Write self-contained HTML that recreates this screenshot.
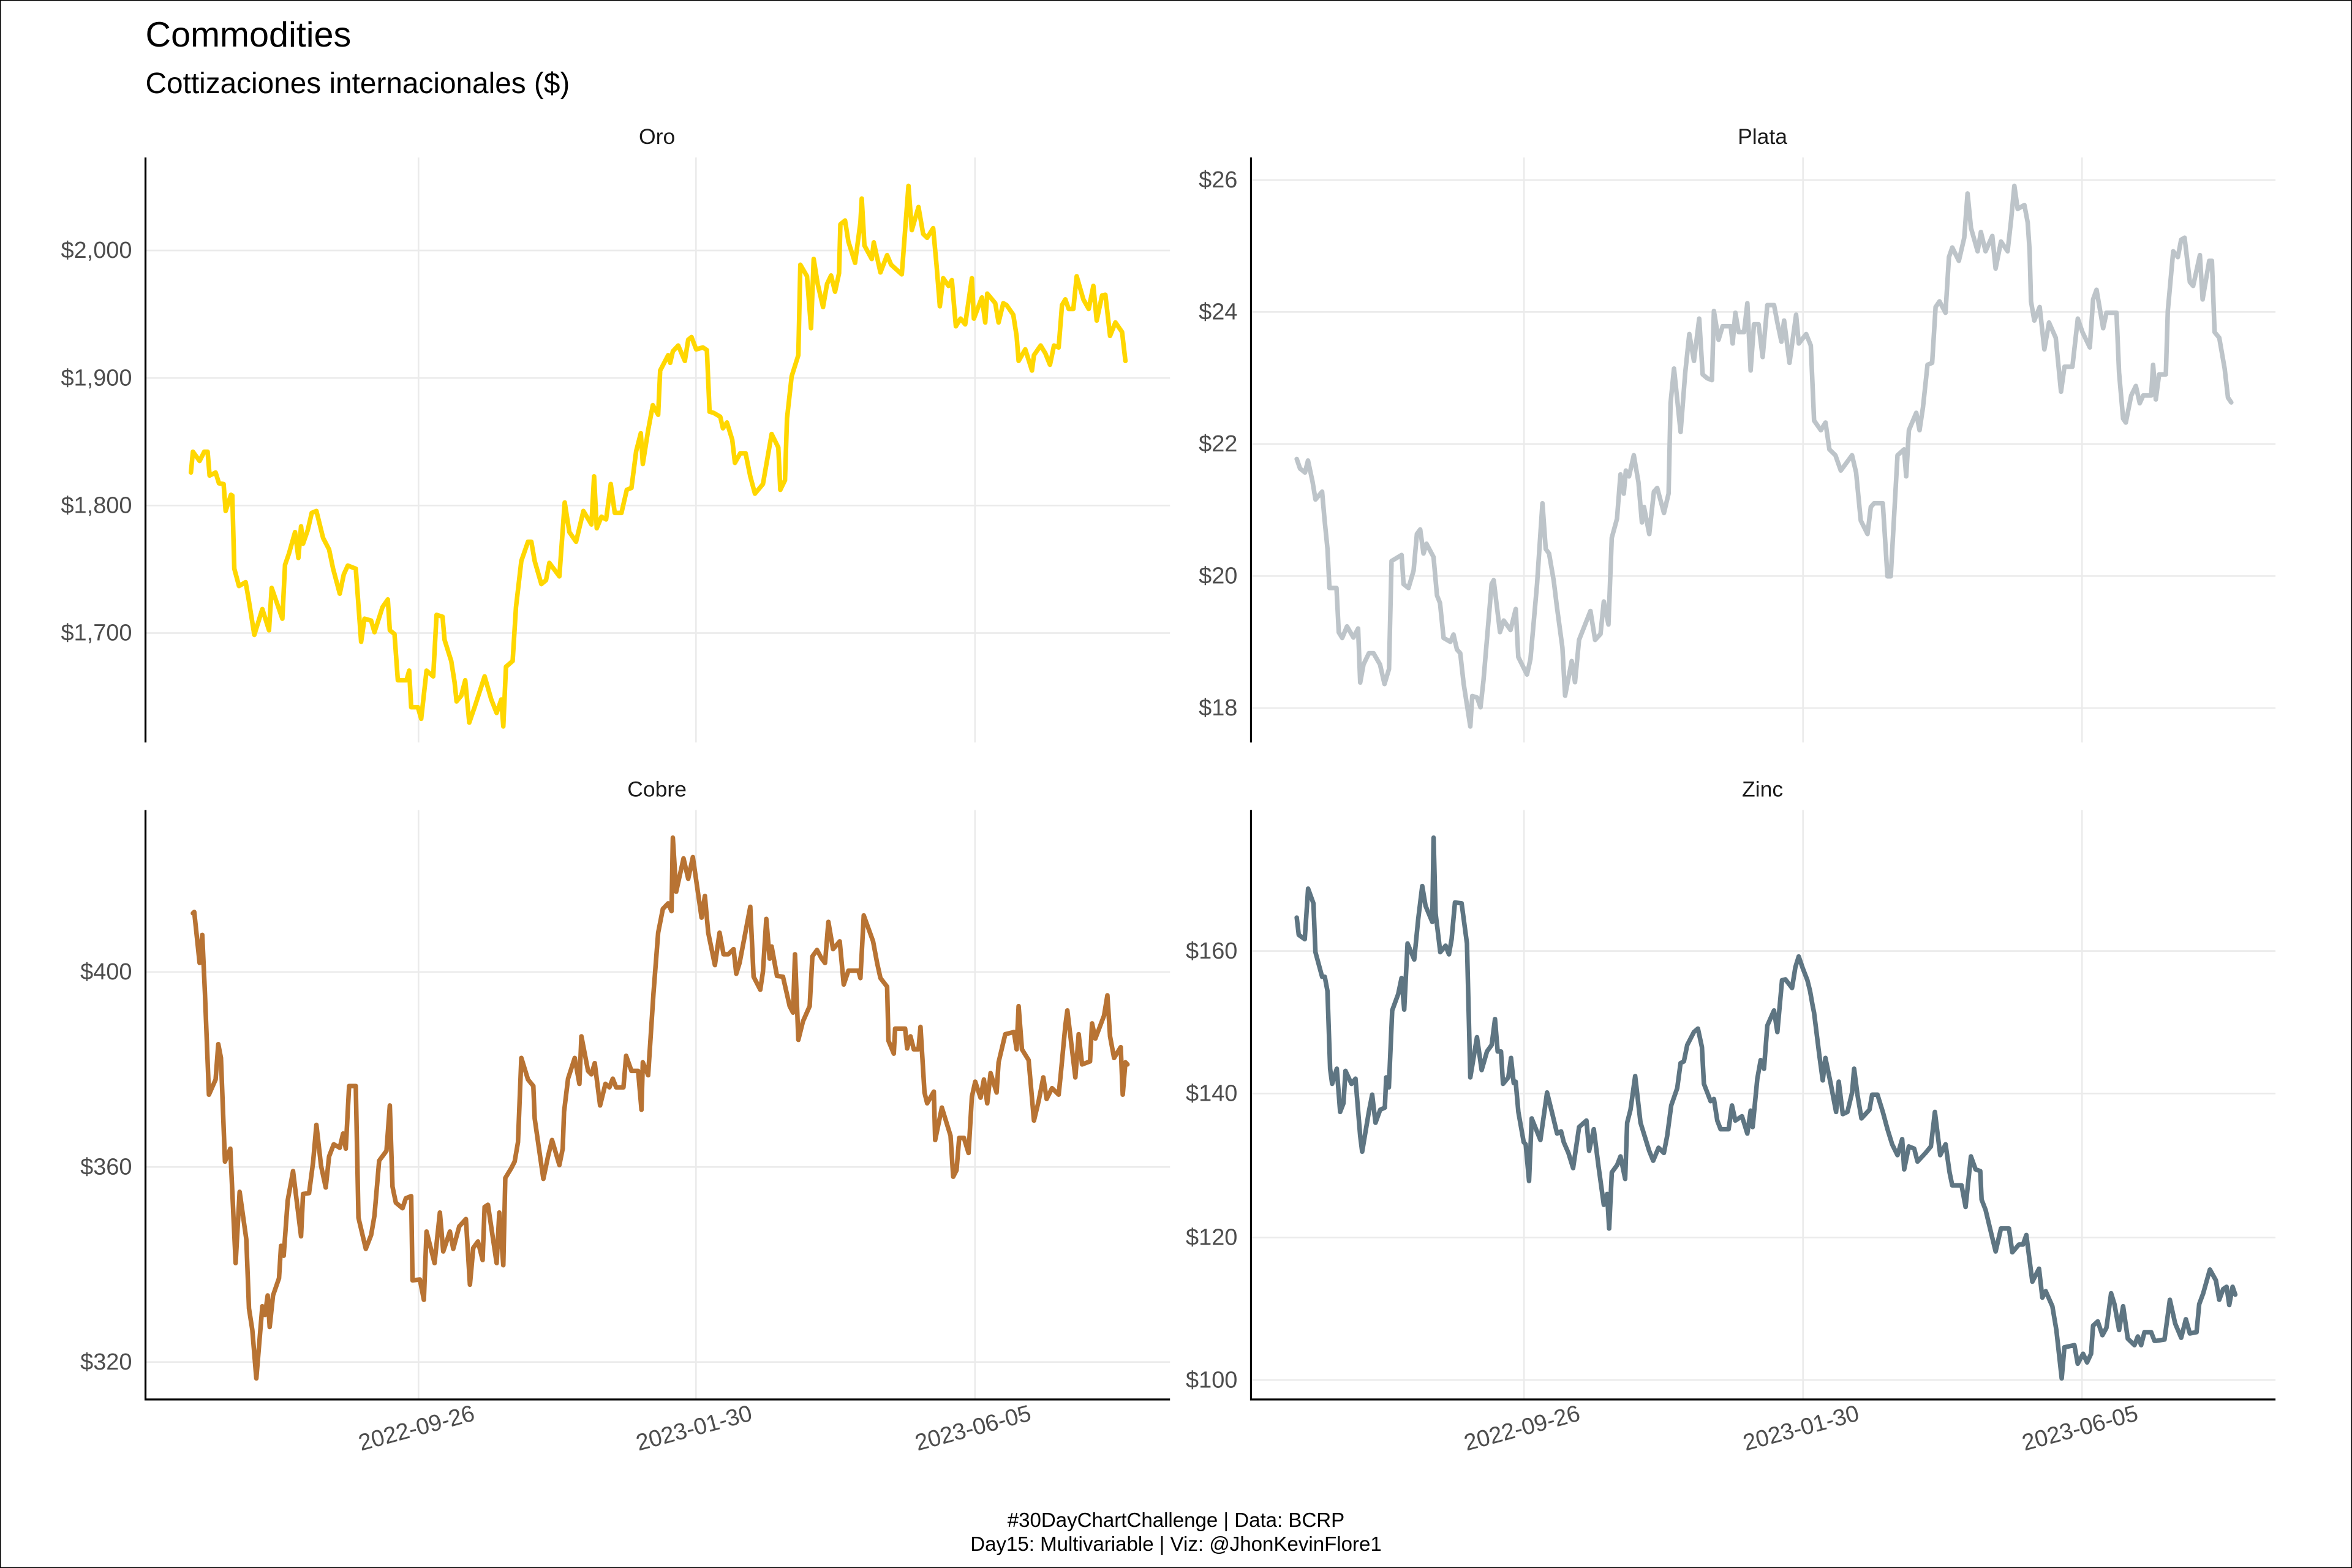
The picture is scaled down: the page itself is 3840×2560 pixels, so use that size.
<!DOCTYPE html>
<html><head><meta charset="utf-8"><style>html,body{margin:0;padding:0;background:#fff}svg{display:block}</style></head>
<body>
<svg xmlns="http://www.w3.org/2000/svg" width="3840" height="2560" viewBox="0 0 1568 1045.33" font-family="Liberation Sans, Arial, sans-serif">
<rect x="0" y="0" width="1568" height="1045.33" fill="#fff" stroke="#000" stroke-width="1.2"/>
<text x="97" y="31" font-size="23.5" fill="#000">Commodities</text>
<text x="97" y="62" font-size="19.5" fill="#000">Cottizaciones internacionales ($)</text>

<g stroke="#ebebeb" stroke-width="1.1" fill="none">
<path d="M97 167H780M97 252H780M97 337H780M97 422H780M279 105V495M464 105V495M650 105V495"/>
<path d="M834 120H1517M834 208H1517M834 296H1517M834 384H1517M834 472H1517M1016 105V495M1202 105V495M1388 105V495"/>
<path d="M97 648H780M97 778H780M97 908H780M279 540V933M464 540V933M650 540V933"/>
<path d="M834 634H1517M834 729H1517M834 825H1517M834 920H1517M1016 540V933M1202 540V933M1388 540V933"/>
</g>

<g stroke="#000" stroke-width="1.3" fill="none">
<path d="M97 105V495M834 105V495M97 540V933H780M834 540V933H1517"/>
</g>

<g font-size="14.5" fill="#1a1a1a" text-anchor="middle">
<text x="438" y="96">Oro</text>
<text x="1175" y="96">Plata</text>
<text x="438" y="531">Cobre</text>
<text x="1175" y="531">Zinc</text>
</g>

<g font-size="15.5" fill="#4d4d4d" text-anchor="end">
<text x="88" y="172">$2,000</text><text x="88" y="257">$1,900</text><text x="88" y="342">$1,800</text><text x="88" y="427">$1,700</text>
<text x="825" y="125">$26</text><text x="825" y="213">$24</text><text x="825" y="301">$22</text><text x="825" y="389">$20</text><text x="825" y="477">$18</text>
<text x="88" y="653">$400</text><text x="88" y="783">$360</text><text x="88" y="913">$320</text>
<text x="825" y="639">$160</text><text x="825" y="734">$140</text><text x="825" y="830">$120</text><text x="825" y="925">$100</text>
</g>

<g font-size="15.5" fill="#4d4d4d" text-anchor="middle">
<text transform="translate(279,957) rotate(-15)">2022-09-26</text>
<text transform="translate(464,957) rotate(-15)">2023-01-30</text>
<text transform="translate(650,957) rotate(-15)">2023-06-05</text>
<text transform="translate(1016,957) rotate(-15)">2022-09-26</text>
<text transform="translate(1202,957) rotate(-15)">2023-01-30</text>
<text transform="translate(1388,957) rotate(-15)">2023-06-05</text>
</g>

<g font-size="13.5" fill="#000" text-anchor="middle">
<text x="784" y="1018">#30DayChartChallenge | Data: BCRP</text>
<text x="784" y="1034">Day15: Multivariable | Viz: @JhonKevinFlore1</text>
</g>

<g fill="none" stroke-linejoin="round" stroke-linecap="round">
<polyline transform="matrix(0.445 0 0 0.2565 93.9 102.1)" vector-effect="non-scaling-stroke" stroke="#FFD700" stroke-width="7.5" points="75,830 78,776 88,800 95,776 100,776 103,838 112,830 117,858 124,860 127,930 135,888 137,890 140,1080 147,1125 157,1115 162,1165 170,1252 182,1185 192,1240 196,1130 205,1175 212,1210 216,1070 222,1040 231,985 236,1052 240,970 243,1015 250,980 256,935 263,930 273,1000 282,1030 288,1080 298,1145 304,1095 310,1072 322,1080 330,1270 335,1210 345,1215 350,1245 362,1180 370,1160 373,1240 380,1250 385,1370 398,1370 402,1345 405,1440 415,1440 420,1470 428,1345 438,1360 443,1200 452,1205 455,1265 465,1320 470,1375 473,1425 480,1410 486,1370 492,1480 500,1440 515,1360 525,1420 533,1455 540,1420 543,1490 547,1335 557,1320 562,1180 570,1060 580,1010 585,1010 590,1060 600,1120 607,1110 612,1065 627,1100 635,908 642,985 652,1010 663,930 675,965 679,840 683,975 690,945 697,952 704,860 710,935 720,935 728,875 735,870 742,775 749,728 752,808 760,720 767,655 775,680 778,565 790,525 793,545 797,515 805,500 815,540 820,485 825,478 832,510 842,505 848,512 852,672 858,675 868,685 872,715 878,700 886,745 890,805 898,780 906,780 913,840 920,885 932,860 938,800 945,730 955,765 958,875 965,850 968,690 975,580 985,525 988,290 998,320 1004,455 1008,275 1014,340 1022,400 1028,340 1034,318 1040,360 1046,312 1048,185 1055,175 1060,230 1070,285 1078,180 1080,118 1084,240 1095,275 1098,232 1108,310 1118,265 1124,290 1140,315 1150,85 1155,200 1165,140 1172,210 1178,220 1187,195 1192,290 1197,398 1202,325 1210,345 1215,330 1221,450 1228,430 1235,445 1245,325 1248,430 1260,375 1265,440 1268,365 1280,390 1285,440 1292,390 1297,395 1307,420 1312,475 1315,540 1325,510 1335,565 1338,525 1348,500 1355,520 1362,550 1368,500 1375,505 1380,395 1385,380 1390,405 1397,405 1402,320 1412,380 1420,405 1427,345 1432,435 1440,370 1445,368 1452,475 1460,440 1470,465 1475,540"/>
<polyline vector-effect="non-scaling-stroke" stroke="#BDC4C9" stroke-width="7.5" points="864.5,306 866.7,312.4 870,315 872,307 875,321 877,333 881.4,327.8 883,346 885,366 886.3,392 891,392 892.5,421.5 894.8,425.3 898,417.6 902.3,425 905.4,419 906.8,455 909,443 912.6,435.5 915.7,435.5 920,443 923,456 926,446 927.7,374 934.4,370 935.7,389.4 939,392 942.4,380.4 944.6,356 946.8,353 949,369 951,362.5 955.7,371.4 958,397 960,402 962.4,425.3 966.9,427.9 969,423 971.3,433 973.5,435.5 975.8,456 980.2,484.3 981.5,464 984.7,465 987,471.5 989,453.5 994.4,389.4 995.8,386.8 1000,421.4 1002.5,413.7 1007,420 1010.5,406 1012.2,438 1018,449.7 1020.3,439.4 1024.7,389.4 1028.3,335.5 1030.5,366 1032.7,369 1035.8,387 1038,405 1041.6,431.7 1043.4,463.8 1047.8,440.7 1050,454.8 1052.7,426.6 1060.3,407.3 1063.4,426.6 1067,422.7 1069.2,401 1072.3,416.3 1074.5,358.6 1078,345.8 1080.3,316.3 1082.5,329.1 1083.9,313.7 1086,317.6 1089.2,303.5 1092.3,321.4 1094.6,348.3 1096,338 1099.5,356 1102.6,327.8 1104.8,325.3 1109.3,342 1112.4,329 1113.7,268.8 1116,245.7 1120.4,288 1123.5,248.3 1126.2,222.7 1129.3,240.6 1132.8,212.4 1135.1,249.6 1138.2,252.2 1141.3,253.4 1142.6,207.3 1145.7,226.5 1148.4,217.5 1153.8,217.5 1155.1,229 1156.9,208.5 1159.1,221.4 1162.7,221.4 1164.9,202.1 1167.1,247 1169.3,216.2 1172.4,216.2 1175.1,238 1178.2,203.4 1182.7,203.4 1184.9,215 1187.6,227.8 1189.4,213.7 1193,241.9 1197.4,209.8 1199.2,229 1204.1,222.7 1207.2,230.3 1209.4,280.4 1213.9,286.8 1217,281.7 1219.6,299.6 1223.6,303.5 1227.2,313.7 1234.7,303.5 1237.4,315 1240.5,347 1245,356 1247.2,338 1249.4,335.5 1255.2,335.5 1258.3,384.2 1260.5,384.2 1265,303.5 1269.4,299.6 1270.8,317.6 1272.6,286.8 1277.5,275.2 1279.7,286.8 1282,271.4 1285,243.2 1288.1,241.9 1290.4,204.7 1293,200.9 1297,208.5 1299.3,171.4 1301.5,165 1305.9,173.9 1309.5,158.5 1311.7,129 1314,152 1318.4,167.5 1320.6,154.7 1323.7,167.5 1328.2,157.3 1330.4,179 1334,161 1338.4,167.5 1340.7,147 1342.9,123.9 1345.1,139.3 1349.6,136.7 1351.8,148.3 1353.1,167.5 1354,200.9 1356.2,213.7 1359.8,204.7 1362.9,232.9 1366,215 1370.5,225.2 1374,261.1 1376.3,244.5 1381.6,244.5 1385.2,212.4 1388.3,221.4 1393.2,231.6 1395.4,199.6 1397.7,193.2 1402.1,218.8 1404.3,208.5 1411,208.5 1412.7,248.3 1415.4,279.1 1417.2,281.7 1420.8,263.7 1423.9,257.3 1426.5,268.8 1428.8,263.7 1434.1,263.7 1435.4,243.2 1437.2,266.3 1439.4,249.6 1443.9,249.6 1445.2,207.3 1448.8,167.5 1451.9,171.4 1454.1,159.8 1456.4,158.5 1459.9,188 1462.1,190.6 1466.6,170.1 1468.4,199.6 1472.8,173.9 1474.6,173.9 1476.4,221.4 1479.5,225.2 1483.1,245.7 1485.3,265 1487.5,268.3"/>
<polyline transform="matrix(0.445 0 0 0.2879 93.9 526.8)" vector-effect="non-scaling-stroke" stroke="#B87333" stroke-width="7.5" points="78,285 80,282 88,400 92,335 96,470 102,705 112,670 116,588 120,620 126,860 134,830 142,1095 148,930 158,1040 162,1200 167,1250 173,1362 182,1195 186,1215 190,1170 193,1243 198,1170 207,1130 210,1055 214,1078 220,950 228,882 235,970 240,1033 243,935 252,933 258,862 263,775 270,870 277,920 282,848 289,820 298,828 303,795 307,830 312,685 322,685 326,990 337,1062 345,1030 350,985 357,858 368,835 373,730 377,918 382,955 392,968 397,945 405,940 407,1135 418,1133 424,1180 428,1022 440,1095 448,978 453,1068 463,1022 468,1062 477,1010 487,993 493,1145 498,1060 505,1045 512,1088 515,965 520,960 533,1095 537,978 543,1100 546,898 555,875 560,860 565,815 570,620 580,670 588,685 590,760 596,825 603,900 610,848 616,810 627,868 632,830 634,745 640,668 650,620 657,680 660,570 670,650 675,658 680,632 688,730 696,680 702,688 707,668 712,688 723,688 727,615 735,650 745,650 750,740 752,630 760,660 768,470 775,330 782,275 790,262 795,280 797,110 802,235 813,158 820,205 827,155 840,295 845,245 850,330 860,405 867,330 873,380 880,380 888,368 892,425 897,400 905,335 913,270 918,432 928,462 932,420 937,298 942,390 945,362 953,430 962,432 972,500 977,515 980,380 985,578 992,535 1002,500 1006,385 1013,370 1020,390 1025,400 1030,305 1037,368 1047,350 1053,450 1060,418 1075,418 1078,435 1083,290 1097,350 1103,400 1108,435 1118,455 1120,580 1128,610 1130,552 1145,552 1148,598 1153,570 1158,600 1165,600 1168,548 1174,700 1178,725 1188,698 1190,810 1200,735 1213,800 1217,895 1222,880 1226,805 1233,805 1240,840 1245,710 1250,675 1258,712 1263,670 1268,725 1273,655 1282,700 1285,630 1295,565 1308,560 1312,600 1315,500 1320,600 1330,625 1338,765 1345,720 1352,665 1357,715 1365,690 1375,705 1378,660 1385,545 1388,510 1400,665 1405,565 1410,635 1422,628 1425,540 1430,575 1443,522 1448,475 1452,570 1458,620 1468,595 1471,705 1475,630 1478,635"/>
<polyline transform="matrix(0.445 0 0 0.2879 828.9 526.8)" vector-effect="non-scaling-stroke" stroke="#5E7582" stroke-width="7.5" points="80,295 83,335 92,345 97,228 105,262 108,375 118,432 122,432 126,465 130,645 133,680 140,645 145,745 150,725 153,650 162,680 168,668 175,800 178,837 188,745 193,705 198,770 205,740 212,735 214,665 218,688 223,510 232,472 237,435 241,508 246,355 256,392 262,298 268,222 273,268 283,305 285,110 288,285 295,375 303,360 308,380 312,345 317,260 327,262 335,355 340,665 350,572 357,648 365,605 372,590 377,530 381,605 386,605 389,680 397,665 401,620 405,678 408,675 412,745 420,815 423,820 428,905 432,760 445,810 455,700 463,750 470,795 476,790 480,815 487,840 494,875 503,780 514,765 518,835 525,785 532,870 540,960 545,935 548,1015 552,885 560,868 565,848 572,900 575,770 580,740 587,662 595,770 608,835 614,858 622,828 630,840 635,800 641,730 650,690 655,632 660,628 665,590 675,560 681,552 687,595 690,680 700,720 705,715 710,765 715,785 727,785 732,730 737,765 747,755 752,780 755,795 760,742 763,780 770,668 775,625 780,645 785,545 795,510 800,560 807,440 812,438 822,458 827,410 832,385 838,412 845,440 849,465 853,500 855,515 863,615 868,672 872,620 880,680 888,745 892,675 898,750 905,745 912,700 915,645 920,705 926,760 938,740 942,705 950,705 958,745 965,785 972,820 980,845 987,808 990,878 997,825 1005,830 1010,860 1022,840 1030,825 1036,745 1044,845 1052,820 1058,885 1062,915 1076,915 1082,965 1090,848 1097,878 1104,882 1106,948 1112,972 1121,1030 1127,1068 1135,1015 1147,1015 1152,1070 1162,1052 1168,1052 1173,1030 1182,1138 1192,1108 1197,1175 1202,1160 1212,1195 1218,1250 1226,1362 1230,1290 1245,1285 1250,1328 1258,1305 1264,1325 1270,1305 1273,1240 1280,1230 1287,1262 1293,1245 1300,1165 1305,1190 1312,1250 1318,1195 1325,1270 1335,1285 1340,1265 1345,1285 1350,1255 1360,1255 1365,1275 1368,1275 1380,1272 1388,1180 1396,1235 1405,1268 1412,1225 1418,1258 1428,1255 1432,1190 1438,1165 1448,1110 1457,1135 1462,1180 1468,1155 1473,1150 1477,1192 1482,1150 1486,1168"/>
</g>
</svg>
</body></html>
